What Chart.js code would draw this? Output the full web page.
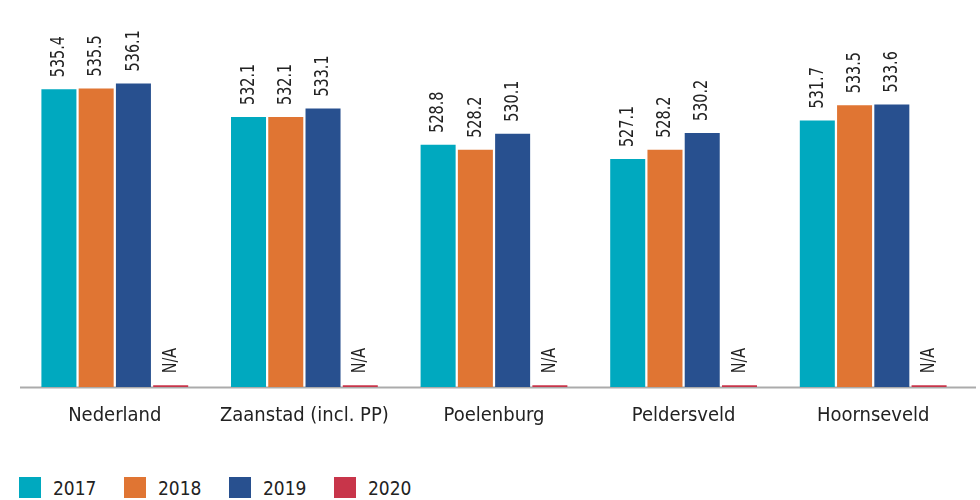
<!DOCTYPE html>
<html>
<head>
<meta charset="utf-8">
<script src="https://cdn.jsdelivr.net/npm/chart.js@4"></script>
<style>
  html, body { margin: 0; padding: 0; background: #fff; }
  #wrap { position: relative; width: 980px; height: 500px; overflow: hidden; }
  #chartBox { position: absolute; left: 0; top: 0; width: 980px; height: 456px; }
  #legend { position: absolute; left: 19px; top: 477px; display: flex; font-family: "DejaVu Sans Condensed", "DejaVu Sans", sans-serif; font-size: 19px; color: #222; }
  .item { display: flex; align-items: center; width: 105px; height: 21px; }
  .box { width: 22px; height: 21px; margin-right: 12px; }
</style>
</head>
<body>
<div id="wrap">
  <div id="chartBox"><canvas id="myChart"></canvas></div>
  <div id="legend"></div>
</div>
<script>
// categorieën en waarden per jaar
var categories = ['Nederland', 'Zaanstad (incl. PP)', 'Poelenburg', 'Peldersveld', 'Hoornseveld'];
var years = ['2017', '2018', '2019', '2020'];
var values2017 = [535.4, 532.1, 528.8, 527.1, 531.7];
var values2018 = [535.5, 532.1, 528.2, 528.2, 533.5];
var values2019 = [536.1, 533.1, 530.1, 530.2, 533.6];
var values2020 = [500.2, 500.2, 500.2, 500.2, 500.2]; // geen data (N/A), alleen een streepje op de as
var labels2020 = ['N/A', 'N/A', 'N/A', 'N/A', 'N/A'];
var colors = ['#00A9BF', '#E07533', '#28508F', '#C8354A'];

var font = '"DejaVu Sans Condensed", "DejaVu Sans", sans-serif';

// x-as lijn, iets langer dan het plotgebied
var axisLine = {
    id: 'axisLine',
    beforeDatasetsDraw: function(chart) {
        var ctx = chart.ctx;
        var y = chart.scales.y.getPixelForValue(500);
        ctx.save();
        ctx.strokeStyle = '#ababab';
        ctx.lineWidth = 2;
        ctx.beginPath();
        ctx.moveTo(chart.chartArea.left, y + 0.5);
        ctx.lineTo(chart.width - 4, y + 0.5);
        ctx.stroke();
        ctx.restore();
    }
};

// waarden boven de staven, gedraaid
var valueLabels = {
    id: 'valueLabels',
    afterDatasetsDraw: function(chart) {
        var ctx = chart.ctx;
        chart.data.datasets.forEach(function(ds, i) {
            var meta = chart.getDatasetMeta(i);
            meta.data.forEach(function(bar, j) {
                var txt = ds.textLabels ? ds.textLabels[j] : ds.data[j].toFixed(1);
                ctx.save();
                ctx.translate(bar.x, bar.y - 12);
                ctx.rotate(-Math.PI / 2);
                ctx.scale(0.8, 1);
                ctx.font = '20px ' + font;
                ctx.fillStyle = '#222';
                ctx.textAlign = 'left';
                ctx.textBaseline = 'middle';
                ctx.fillText(txt, 0, 0);
                ctx.restore();
            });
        });
    }
};

var ctx = document.getElementById('myChart').getContext('2d');
var myChart = new Chart(ctx, {
    type: 'bar',
    data: {
        labels: categories,
        datasets: [
            { label: years[0], data: values2017, backgroundColor: colors[0] },
            { label: years[1], data: values2018, backgroundColor: colors[1] },
            { label: years[2], data: values2019, backgroundColor: colors[2] },
            { label: years[3], data: values2020, backgroundColor: colors[3], textLabels: labels2020 }
        ]
    },
    options: {
        responsive: true,
        maintainAspectRatio: false,
        animation: false,
        datasets: { bar: { categoryPercentage: 0.786, barPercentage: 0.94 } },
        layout: { padding: { left: 20, right: 12, top: 6, bottom: 11 } },
        plugins: {
            legend: { display: false },
            tooltip: { enabled: false }
        },
        scales: {
            x: {
                grid: { display: false, drawTicks: false },
                border: { display: false },
                ticks: { color: '#222', padding: 17, font: { family: font, size: 20 } }
            },
            y: {
                display: false,
                min: 500,
                max: 545.3
            }
        }
    },
    plugins: [axisLine, valueLabels]
});

// legenda onderaan
var legend = document.getElementById('legend');
years.forEach(function(y, i) {
    var item = document.createElement('div');
    item.className = 'item';
    var box = document.createElement('span');
    box.className = 'box';
    box.style.background = colors[i];
    item.appendChild(box);
    item.appendChild(document.createTextNode(y));
    legend.appendChild(item);
});
</script>
</body>
</html>
